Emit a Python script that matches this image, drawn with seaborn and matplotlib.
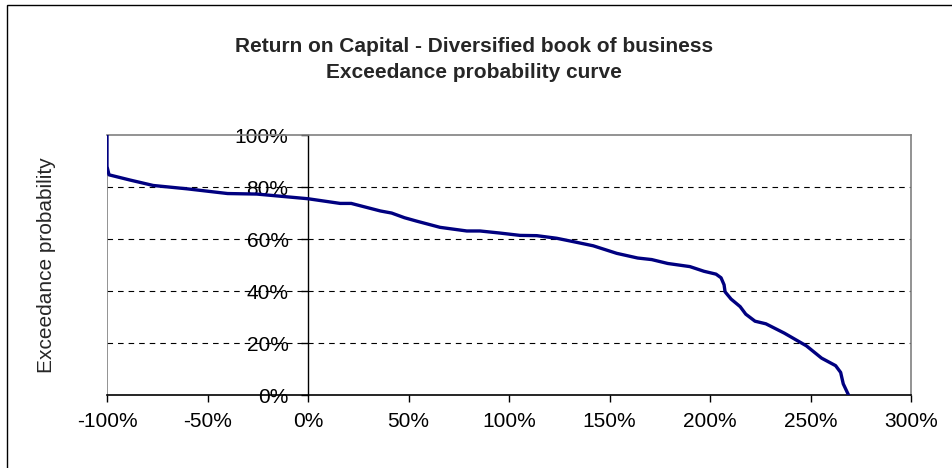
import matplotlib
matplotlib.use("Agg")
import matplotlib.pyplot as plt
import seaborn as sns
import pandas as pd
from matplotlib.patches import Rectangle

# return on capital (%) and exceedance probability (%)
roc = [-100, -100, -99, -88.6, -77, -60, -40, -25.5, 0, 16, 21.5, 36, 41.6, 48, 54,
       65.7, 79, 85.6, 95.5, 105.5, 113.8, 123.7, 132, 141.9, 153.6, 164, 171, 179,
       190, 197, 203, 205.5, 207, 207.5, 210.5, 215, 217.8, 222.4, 227.8, 237, 248,
       255.5, 262.5, 265, 266.3, 268.5, 269]
prob = [100, 88, 84.8, 82.8, 80.7, 79.4, 77.6, 77.4, 75.6, 73.8, 73.8, 70.9, 70.1,
        68.3, 67, 64.6, 63.2, 63.2, 62.4, 61.5, 61.4, 60.4, 59.1, 57.5, 54.6, 52.8,
        52.2, 50.7, 49.5, 47.7, 46.6, 45.2, 42.5, 39.8, 37, 34.1, 31.2, 28.5, 27.5,
        23.9, 19, 14.3, 11.4, 8.8, 4.4, 0.8, 0]

x_ticks = [-100, -50, 0, 50, 100, 150, 200, 250, 300]
y_ticks = [0, 20, 40, 60, 80, 100]
grid_levels = [20, 40, 60, 80]

title_1 = "Return on Capital - Diversified book of business"
title_2 = "Exceedance probability curve"

df = pd.DataFrame({"roc": roc, "prob": prob})

sns.set_style("white")
plt.rcParams["font.family"] = ["Liberation Sans", "DejaVu Sans"]

W, H = 952, 468
fig = plt.figure(figsize=(W / 100, H / 100), dpi=100)
ax = fig.add_axes([107 / W, 1 - 395.3 / H, (911 - 107) / W, (395.3 - 135.3) / H])

# outer chart border (clipped at right/bottom like the source)
fig.patches.append(Rectangle((7 / W, -0.1), 1.2, 1 - 5.5 / H + 0.1, transform=fig.transFigure,
                             fill=False, edgecolor="black", linewidth=1.0))

for g in grid_levels:
    ax.axhline(g, color="black", linestyle=(0, (5, 4.5)), linewidth=0.8, zorder=1)

sns.lineplot(data=df, x="roc", y="prob", sort=False, estimator=None,
             color="#000080", linewidth=2.4, ax=ax, zorder=3)

ax.set_xlim(-100, 300)
ax.set_ylim(0, 100)

# y axis crosses at x = 0
ax.spines["left"].set_position(("data", 0))
ax.spines["left"].set_color("black")
ax.spines["left"].set_linewidth(1.0)
ax.spines["bottom"].set_color("black")
ax.spines["bottom"].set_linewidth(1.2)
for s in ["top", "right"]:
    ax.spines[s].set_color("#808080")
    ax.spines[s].set_linewidth(1.2)
ax.axvline(-100, color="#808080", linewidth=1.2, zorder=2)

ax.set_xticks(x_ticks)
ax.set_xticklabels([f"{t}%" for t in x_ticks])
ax.set_yticks(y_ticks)
ax.set_yticklabels([f"{t}%" for t in y_ticks])
ax.tick_params(axis="both", direction="out", length=5, width=1, color="black",
               labelsize=15, labelcolor="black", left=True, bottom=True)
ax.tick_params(axis="x", pad=7)
ax.tick_params(axis="y", pad=9)
ax.set_xlabel("")
ax.set_ylabel("")

fig.text(47 / W, 1 - 265 / H, "Exceedance probability", rotation=90,
         ha="center", va="center", fontsize=15)
fig.text(474 / W, 1 - 46 / H, title_1, ha="center", va="center", fontsize=15,
         fontweight="bold")
fig.text(474 / W, 1 - 72 / H, title_2, ha="center", va="center", fontsize=15,
         fontweight="bold")

fig.savefig("out.png", dpi=100)
